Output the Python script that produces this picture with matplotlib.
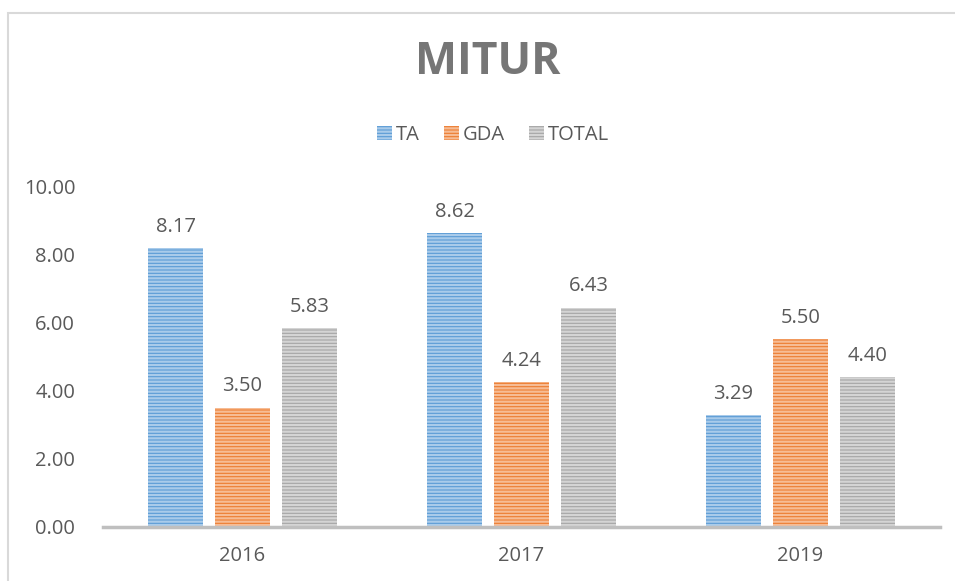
import numpy as np
import matplotlib.pyplot as plt
from matplotlib.patches import Rectangle

plt.rcParams['font.family'] = ['Open Sans', 'DejaVu Sans']
plt.rcParams['hatch.linewidth'] = 1.6

# data
years = ['2016', '2017', '2019']
series = ['TA', 'GDA', 'TOTAL']
ta = [8.17, 8.62, 3.29]
gda = [3.50, 4.24, 5.50]
total = [5.83, 6.43, 4.40]
colors = ['#5B9BD5', '#ED7D31', '#A5A5A5']
hatch_colors = ['#A9CBEA', '#F6BC95', '#D4D4D4']
text_color = '#595959'

W, H = 955, 581
fig = plt.figure(figsize=(W / 100, H / 100), dpi=100)

# chart border (only top and left visible in the crop)
fig.patches.append(Rectangle((8 / W, -0.1), 1.2, (H - 13) / H + 0.1,
                             transform=fig.transFigure, fill=False,
                             edgecolor='#D9D9D9', linewidth=1.5))

ax = fig.add_axes([103 / W, (H - 527) / H, (940 - 103) / W, (527 - 186) / H])

x = np.arange(len(years))
w = 0.197
step = 0.24
for i, (name, vals) in enumerate(zip(series, [ta, gda, total])):
    pos = x + (i - 1) * step
    bars = ax.bar(pos, vals, w, color=colors[i], edgecolor=hatch_colors[i],
                  hatch='-----', linewidth=0, label=name)
    for b, v in zip(bars, vals):
        ax.text(b.get_x() + b.get_width() / 2, v + 0.33, f'{v:.2f}',
                ha='center', va='bottom', fontsize=14.5, color=text_color)

ax.set_xlim(-0.5, 2.5)
ax.set_ylim(0, 10)
ax.set_yticks(np.arange(0, 10.01, 2))
ax.set_yticklabels([f'{t:.2f}' for t in np.arange(0, 10.01, 2)])
ax.set_xticks(x)
ax.set_xticklabels(years)
ax.tick_params(axis='both', length=0, labelsize=14.5, colors=text_color)
ax.tick_params(axis='y', pad=20)
ax.tick_params(axis='x', pad=14)
for s in ['top', 'right', 'left']:
    ax.spines[s].set_visible(False)
ax.spines['bottom'].set_color('#BFBFBF')
ax.spines['bottom'].set_linewidth(2.5)

fig.text(488 / W, 1 - 63 / H, 'MITUR', ha='center', va='center',
         fontsize=32, fontweight='bold', color='#767676')

leg = fig.legend(loc='center', bbox_to_anchor=(493 / W, 1 - 135 / H), ncol=3,
                 frameon=False, fontsize=14.5, handlelength=0.75, handleheight=0.75,
                 handletextpad=0.2, columnspacing=1.2, labelcolor=text_color)

fig.savefig('out.png', dpi=100)
